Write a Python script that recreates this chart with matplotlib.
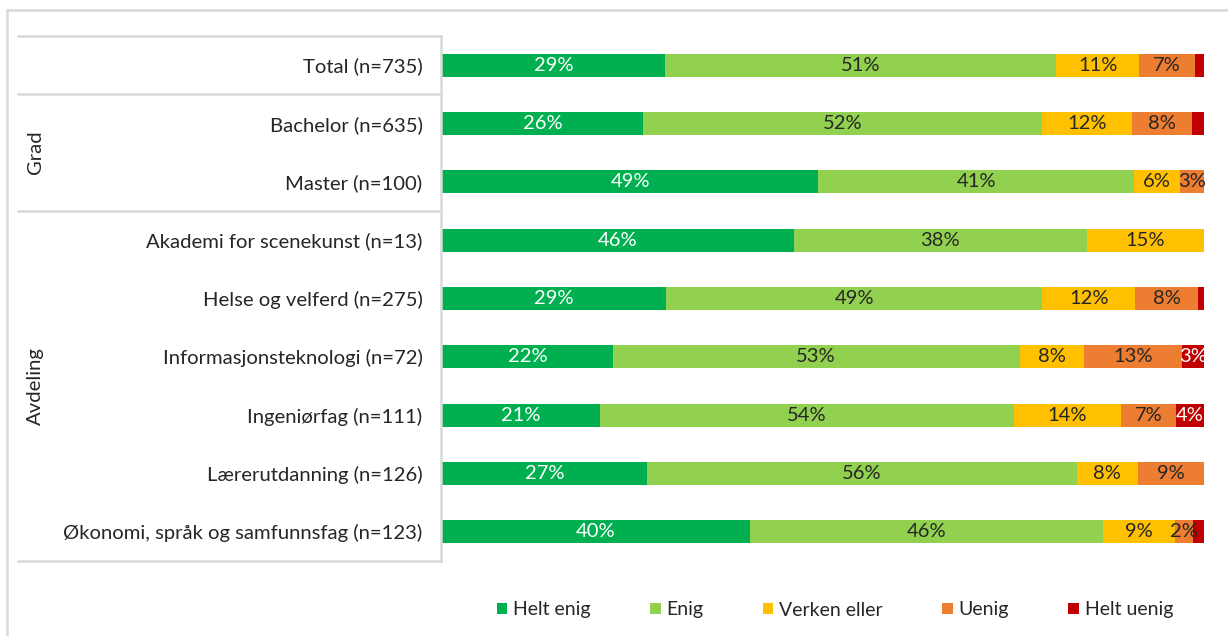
import matplotlib
matplotlib.use("Agg")
import matplotlib.pyplot as plt
from matplotlib.lines import Line2D
from matplotlib.patches import Patch
import matplotlib.transforms as mtransforms

plt.rcParams['font.family'] = ['Lato', 'DejaVu Sans']

categories = [
    "Total (n=735)",
    "Bachelor (n=635)",
    "Master (n=100)",
    "Akademi for scenekunst (n=13)",
    "Helse og velferd (n=275)",
    "Informasjonsteknologi (n=72)",
    "Ingeniørfag (n=111)",
    "Lærerutdanning (n=126)",
    "Økonomi, språk og samfunnsfag (n=123)",
]
series_names = ["Helt enig", "Enig", "Verken eller", "Uenig", "Helt uenig"]
helt_enig = [29.3, 26.4, 49.4, 46.2, 29.4, 22.4, 20.8, 26.9, 40.4]
enig = [51.3, 52.4, 41.4, 38.4, 49.4, 53.4, 54.2, 56.4, 46.4]
verken_eller = [10.9, 11.7, 6.1, 15.4, 12.2, 8.4, 14.1, 8.0, 9.4]
uenig = [7.3, 7.9, 3.1, 0.0, 8.2, 12.9, 7.2, 8.7, 2.4]
helt_uenig = [1.2, 1.6, 0.0, 0.0, 0.8, 2.9, 3.7, 0.0, 1.4]
groups = [("Grad", 1, 2), ("Avdeling", 3, 8)]

colors = ["#00B050", "#92D050", "#FFC000", "#ED7D31", "#C00000"]
text_colors = ["white", "#262626", "#262626", "#262626", "white"]

W, H = 1228, 636
fig = plt.figure(figsize=(W / 100, H / 100), dpi=100)
ax = fig.add_axes([442 / W, 1 - 561 / H, (1204 - 442) / W, (561 - 36) / H])

y = list(range(len(categories)))
left = [0.0] * len(categories)
all_series = [helt_enig, enig, verken_eller, uenig, helt_uenig]
for name, vals, col, tcol in zip(series_names, all_series, colors, text_colors):
    bars = ax.barh(y, vals, left=left, height=0.39, color=col, label=name,
                   edgecolor='none')
    for b, v in zip(bars, vals):
        if v >= 2.0:
            ax.text(b.get_x() + b.get_width() / 2, b.get_y() + b.get_height() / 2,
                    f"{round(v)}%", ha='center', va='center', color=tcol,
                    fontsize=14.5)
    left = [l + v for l, v in zip(left, vals)]

ax.set_xlim(0, 100)
ax.set_ylim(len(categories) - 0.5, -0.5)
ax.set_yticks(y)
ax.set_yticklabels(categories, fontsize=14.6, color="#262626")
ax.tick_params(axis='y', length=0, pad=14)
ax.set_xticks([])
for s in ax.spines.values():
    s.set_visible(False)

# category axis separators
line_col = "#D9D9D9"
tr = mtransforms.blended_transform_factory(fig.transFigure, ax.transData)
for yb in [-0.5, 0.5, 2.5, len(categories) - 0.5]:
    fig.add_artist(Line2D([18 / W, 441 / W], [yb, yb], transform=tr,
                          color=line_col, lw=1.8))
fig.add_artist(Line2D([441 / W, 441 / W], [-0.5, len(categories) - 0.5],
                      transform=tr, color=line_col, lw=1.8))

for gname, g0, g1 in groups:
    fig.text(35 / W, (g0 + g1) / 2, gname, rotation=90, ha='center', va='center',
             fontsize=14.6, color="#262626", transform=tr)

# outer chart border
fig.add_artist(Line2D([7 / W, 1.0], [1 - 10 / H, 1 - 10 / H],
                      transform=fig.transFigure, color=line_col, lw=1.8))
fig.add_artist(Line2D([7 / W, 7 / W], [1 - 10 / H, 0],
                      transform=fig.transFigure, color=line_col, lw=1.8))

handles = [Patch(facecolor=c, edgecolor='none') for c in colors]
fig.legend(handles, series_names, loc='center', bbox_to_anchor=(835 / W, 1 - 610 / H),
           ncol=5, frameon=False, fontsize=14, handlelength=0.55, handleheight=0.55,
           handletextpad=0.3, columnspacing=3.05, labelcolor="#262626")

fig.savefig("out.png", dpi=100)
